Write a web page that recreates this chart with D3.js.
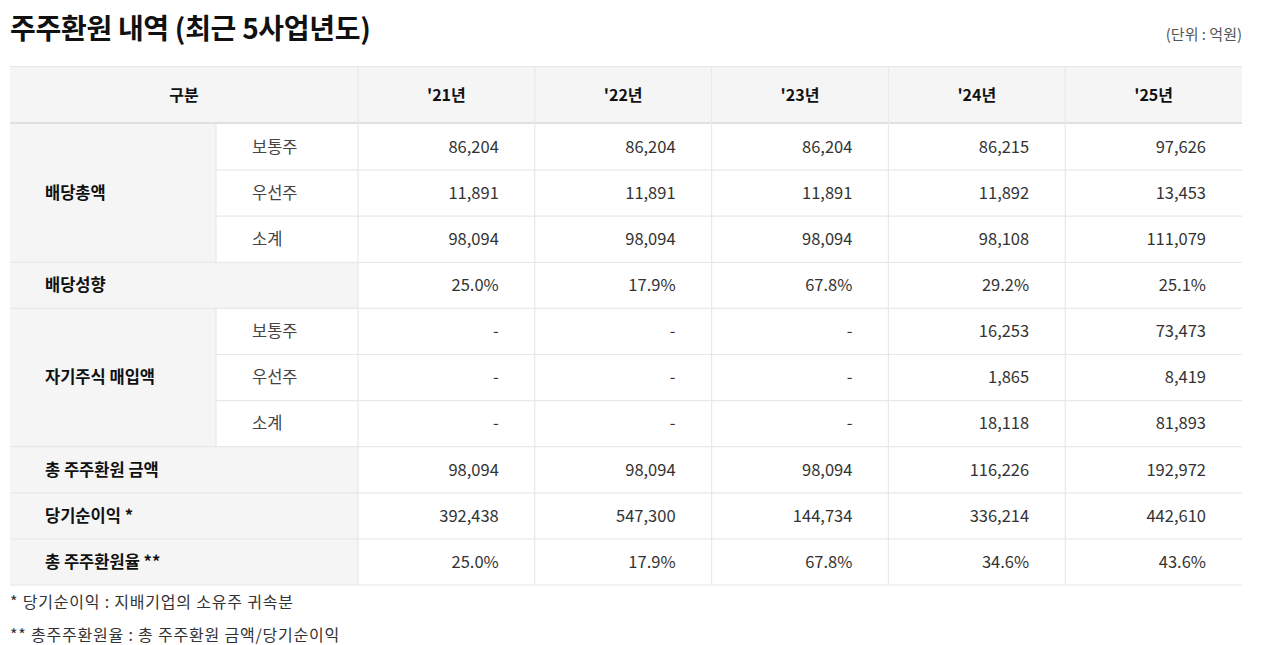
<!DOCTYPE html>
<html>
  <head>
    <meta charset="utf-8">
    <title></title>
  </head>
  <style>
  body{
      font-family: "Noto Sans CJK KR", "Noto Sans", sans-serif;
      background-color: #fff;
      margin:0;
      padding:0
  }
  svg { display: block }
  .hd { font-weight: 700; fill: #111; font-size: 16px }
  .lb { font-weight: 700; fill: #111; font-size: 16.5px }
  .sub { fill: #444; font-size: 16.5px }
  .val { fill: #333; font-size: 16.5px }
  .note { fill: #333; font-size: 16px; letter-spacing: 0.8px }
  </style>
  <script src="https://d3js.org/d3.v7.min.js"></script>
  <body>
    <script>
    // 데이터
    var years = ["'21년", "'22년", "'23년", "'24년", "'25년"]
    var dividendCommon    = [86204, 86204, 86204, 86215, 97626]
    var dividendPreferred = [11891, 11891, 11891, 11892, 13453]
    var dividendTotal     = [98094, 98094, 98094, 98108, 111079]
    var payoutRatio       = [25.0, 17.9, 67.8, 29.2, 25.1]
    var buybackCommon     = [null, null, null, 16253, 73473]
    var buybackPreferred  = [null, null, null, 1865, 8419]
    var buybackTotal      = [null, null, null, 18118, 81893]
    var totalReturn       = [98094, 98094, 98094, 116226, 192972]
    var netIncome         = [392438, 547300, 144734, 336214, 442610]
    var totalReturnRatio  = [25.0, 17.9, 67.8, 34.6, 43.6]

    var rows = [
      {group: "배당총액", sub: "보통주", values: dividendCommon, pct: false},
      {group: "배당총액", sub: "우선주", values: dividendPreferred, pct: false},
      {group: "배당총액", sub: "소계", values: dividendTotal, pct: false},
      {group: "배당성향", sub: null, values: payoutRatio, pct: true},
      {group: "자기주식 매입액", sub: "보통주", values: buybackCommon, pct: false},
      {group: "자기주식 매입액", sub: "우선주", values: buybackPreferred, pct: false},
      {group: "자기주식 매입액", sub: "소계", values: buybackTotal, pct: false},
      {group: "총 주주환원 금액", sub: null, values: totalReturn, pct: false},
      {group: "당기순이익 *", sub: null, values: netIncome, pct: false},
      {group: "총 주주환원율 **", sub: null, values: totalReturnRatio, pct: true}
    ]

    var title = "주주환원 내역 (최근 5사업년도)"
    var unit = "(단위 : 억원)"
    var notes = ["* 당기순이익 : 지배기업의 소유주 귀속분", "** 총주주환원율 : 총 주주환원 금액/당기순이익"]

    var W = 1270, H = 645
    var left = 10, right = 1242, col1 = 216, col2 = 358
    var headTop = 66, headBottom = 124, tableBottom = 585
    var padL = 35, padR = 36
    var gray = "#f5f5f5", line = "#e8e8e8"

    var svg = d3.select("body").append("svg")
                .attr("width", W).attr("height", H)

    var x = d3.scaleBand().domain(years).range([col2, right])
    var y = d3.scaleBand().domain(d3.range(rows.length)).range([headBottom, tableBottom])

    var fmtNum = d3.format(",")
    var fmtPct = d3.format(".1f")
    function fmt(v, pct){
      if (v == null) return "-"
      return pct ? fmtPct(v) + "%" : fmtNum(v)
    }

    // 제목
    svg.append("text").text(title)
       .attr("x", left).attr("y", 39)
       .attr("font-size", "28px").attr("font-weight", 700)
       .attr("letter-spacing", "-0.3px")
       .attr("fill", "#111")
    svg.append("text").text(unit)
       .attr("x", right).attr("y", 40)
       .attr("text-anchor", "end")
       .attr("font-size", "15px").attr("fill", "#555")

    // 헤더 배경
    svg.append("rect")
       .attr("x", left).attr("y", headTop)
       .attr("width", right - left).attr("height", headBottom - headTop)
       .attr("fill", gray)

    // 그룹 묶기
    var groups = []
    rows.forEach(function(r, i){
      var last = groups[groups.length - 1]
      if (last && last.name == r.group) last.end = i
      else groups.push({name: r.group, start: i, end: i, hasSub: r.sub != null})
    })

    // 라벨 셀 배경
    svg.append("g").selectAll("rect")
       .data(groups).enter().append("rect")
       .attr("x", left)
       .attr("y", function(d){ return y(d.start) })
       .attr("width", function(d){ return (d.hasSub ? col1 : col2) - left })
       .attr("height", function(d){ return y(d.end) + y.bandwidth() - y(d.start) })
       .attr("fill", gray)

    var lines = svg.append("g").attr("stroke", line).attr("stroke-width", 1.2)

    // 가로선
    lines.append("line")
       .attr("x1", left).attr("x2", right)
       .attr("y1", headTop + 0.5).attr("y2", headTop + 0.5)
    rows.forEach(function(r, i){
      var yy = y(i) + y.bandwidth()
      var g = groups.find(function(g){ return g.name == r.group })
      var inner = g.hasSub && i < g.end
      lines.append("line")
         .attr("x1", inner ? col1 : left).attr("x2", right)
         .attr("y1", yy).attr("y2", yy)
    })
    lines.append("line")
       .attr("x1", left).attr("x2", right)
       .attr("y1", headBottom - 1).attr("y2", headBottom - 1)
       .attr("stroke", "#e0e0e0").attr("stroke-width", 2)

    // 세로선
    var vx = [col2].concat(years.slice(1).map(function(d){ return x(d) }))
    lines.selectAll("line.v").data(vx).enter().append("line")
       .attr("class", "v")
       .attr("x1", function(d){ return d }).attr("x2", function(d){ return d })
       .attr("y1", headTop).attr("y2", tableBottom)
    groups.filter(function(g){ return g.hasSub }).forEach(function(g){
      lines.append("line")
         .attr("x1", col1).attr("x2", col1)
         .attr("y1", y(g.start)).attr("y2", y(g.end) + y.bandwidth())
    })

    // 헤더 텍스트
    svg.append("text").attr("class", "hd").text("구분")
       .attr("x", (left + col2) / 2).attr("y", (headTop + headBottom) / 2)
       .attr("text-anchor", "middle").attr("dy", "0.35em")
    svg.append("g").selectAll("text")
       .data(years).enter().append("text")
       .attr("class", "hd")
       .text(function(d){ return d })
       .attr("x", function(d){ return x(d) + x.bandwidth() / 2 })
       .attr("y", (headTop + headBottom) / 2)
       .attr("text-anchor", "middle").attr("dy", "0.35em")

    // 그룹 라벨
    svg.append("g").selectAll("text")
       .data(groups).enter().append("text")
       .attr("class", "lb")
       .text(function(d){ return d.name })
       .attr("x", left + padL)
       .attr("y", function(d){ return (y(d.start) + y(d.end) + y.bandwidth()) / 2 })
       .attr("dy", "0.35em")

    // 하위 라벨
    svg.append("g").selectAll("text")
       .data(rows.map(function(r, i){ return {r: r, i: i} }).filter(function(d){ return d.r.sub }))
       .enter().append("text")
       .attr("class", "sub")
       .text(function(d){ return d.r.sub })
       .attr("x", col1 + 36)
       .attr("y", function(d){ return y(d.i) + y.bandwidth() / 2 })
       .attr("dy", "0.35em")

    // 값
    var rowG = svg.append("g").selectAll("g")
       .data(rows).enter().append("g")
       .attr("transform", function(d, i){ return "translate(0," + (y(i) + y.bandwidth() / 2) + ")" })
    rowG.selectAll("text")
       .data(function(d){ return d.values.map(function(v, j){ return {v: v, pct: d.pct, year: years[j]} }) })
       .enter().append("text")
       .attr("class", "val")
       .text(function(d){ return fmt(d.v, d.pct) })
       .attr("x", function(d){ return x(d.year) + x.bandwidth() - padR })
       .attr("text-anchor", "end")
       .attr("dy", "0.35em")

    // 주석
    svg.append("g").selectAll("text")
       .data(notes).enter().append("text")
       .attr("class", "note")
       .text(function(d){ return d })
       .attr("x", left)
       .attr("y", function(d, i){ return 608 + i * 33 })
    </script>
  </body>
</html>
